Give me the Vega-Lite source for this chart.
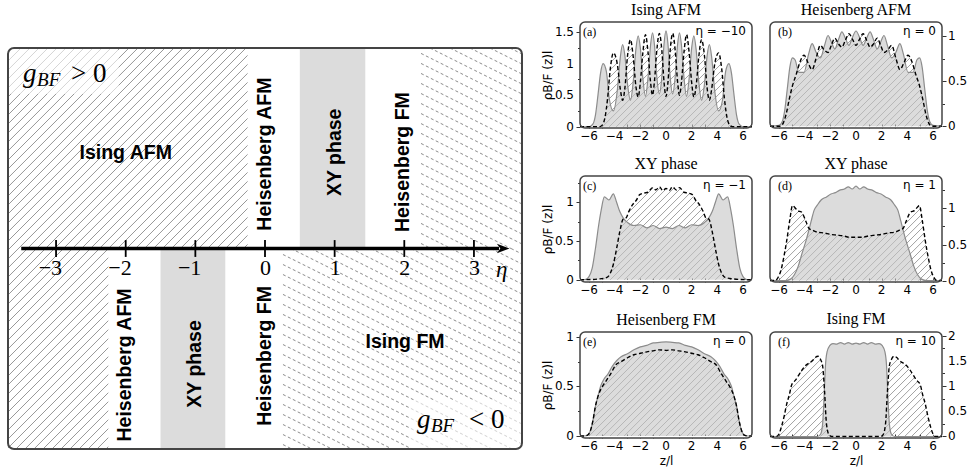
{
"$schema":"https://vega.github.io/schema/vega-lite/v6.json",
"padding":{"left":7,"top":2,"right":0,"bottom":0},
"background":"white",
"spacing":18,
"config":{"view":{"stroke":null},
"axis":{"labelFont":"DejaVu Sans","labelFontSize":12,"titleFont":"DejaVu Sans","titleFontSize":12,"titleFontWeight":"normal","labelColor":"#000","titleColor":"#000","tickColor":"#333","tickWidth":1,"domain":false,"grid":false,"zindex":1},
"title":{"font":"Liberation Serif","fontSize":16,"fontWeight":"normal","color":"#000","offset":3}},
"datasets":{
"one":[{}],
"xl":[{"t":-6,"l":"−6"},{"t":-4,"l":"−4"},{"t":-2,"l":"−2"},{"t":0,"l":"0"},{"t":2,"l":"2"},{"t":4,"l":"4"},{"t":6,"l":"6"}],
"yl":[{"t":0,"l":"0"},{"t":0.5,"l":"0.5"},{"t":1,"l":"1"},{"t":1.5,"l":"1.5"},{"t":2,"l":"2"}],
"hatch":[{"hx":-0.610,"hx2":0.006},{"hx":-0.569,"hx2":0.047},{"hx":-0.529,"hx2":0.087},{"hx":-0.488,"hx2":0.128},{"hx":-0.447,"hx2":0.169},{"hx":-0.407,"hx2":0.209},{"hx":-0.366,"hx2":0.250},{"hx":-0.325,"hx2":0.291},{"hx":-0.284,"hx2":0.332},{"hx":-0.244,"hx2":0.372},{"hx":-0.203,"hx2":0.413},{"hx":-0.162,"hx2":0.454},{"hx":-0.122,"hx2":0.494},{"hx":-0.081,"hx2":0.535},{"hx":-0.040,"hx2":0.576},{"hx":0.000,"hx2":0.616},{"hx":0.041,"hx2":0.657},{"hx":0.082,"hx2":0.698},{"hx":0.123,"hx2":0.739},{"hx":0.163,"hx2":0.779},{"hx":0.204,"hx2":0.820},{"hx":0.245,"hx2":0.861},{"hx":0.285,"hx2":0.901},{"hx":0.326,"hx2":0.942},{"hx":0.367,"hx2":0.983},{"hx":0.407,"hx2":1.023},{"hx":0.448,"hx2":1.064},{"hx":0.489,"hx2":1.105},{"hx":0.530,"hx2":1.146},{"hx":0.570,"hx2":1.186},{"hx":0.611,"hx2":1.227},{"hx":0.652,"hx2":1.268},{"hx":0.692,"hx2":1.308},{"hx":0.733,"hx2":1.349},{"hx":0.774,"hx2":1.390},{"hx":0.814,"hx2":1.430},{"hx":0.855,"hx2":1.471},{"hx":0.896,"hx2":1.512},{"hx":0.937,"hx2":1.553},{"hx":0.977,"hx2":1.593}],
"cur":[
{"p":"a","s":"B","z":-6.7,"v":0},{"p":"a","s":"B","z":-6.0,"v":0},{"p":"a","s":"B","z":-5.7,"v":0.04},{"p":"a","s":"B","z":-5.5,"v":0.18},{"p":"a","s":"B","z":-5.3,"v":0.5},{"p":"a","s":"B","z":-5.1,"v":0.85},{"p":"a","s":"B","z":-4.9,"v":1.0},{"p":"a","s":"B","z":-4.65,"v":0.88},{"p":"a","s":"B","z":-4.4,"v":0.42},{"p":"a","s":"B","z":-4.1,"v":0.25},{"p":"a","s":"B","z":-3.78,"v":0.6},{"p":"a","s":"B","z":-3.56,"v":1.1},{"p":"a","s":"B","z":-3.38,"v":1.3},{"p":"a","s":"B","z":-3.2,"v":1.12},{"p":"a","s":"B","z":-3.0,"v":0.68},{"p":"a","s":"B","z":-2.77,"v":0.42},{"p":"a","s":"B","z":-2.55,"v":0.72},{"p":"a","s":"B","z":-2.35,"v":1.22},{"p":"a","s":"B","z":-2.17,"v":1.44},{"p":"a","s":"B","z":-2.0,"v":1.25},{"p":"a","s":"B","z":-1.8,"v":0.76},{"p":"a","s":"B","z":-1.6,"v":0.48},{"p":"a","s":"B","z":-1.4,"v":0.78},{"p":"a","s":"B","z":-1.2,"v":1.3},{"p":"a","s":"B","z":-1.05,"v":1.49},{"p":"a","s":"B","z":-0.9,"v":1.3},{"p":"a","s":"B","z":-0.72,"v":0.8},{"p":"a","s":"B","z":-0.52,"v":0.52},{"p":"a","s":"B","z":-0.32,"v":0.8},{"p":"a","s":"B","z":-0.15,"v":1.32},{"p":"a","s":"B","z":0,"v":1.52},{"p":"a","s":"B","z":0.15,"v":1.32},{"p":"a","s":"B","z":0.32,"v":0.8},{"p":"a","s":"B","z":0.52,"v":0.52},{"p":"a","s":"B","z":0.72,"v":0.8},{"p":"a","s":"B","z":0.9,"v":1.3},{"p":"a","s":"B","z":1.05,"v":1.49},{"p":"a","s":"B","z":1.2,"v":1.3},{"p":"a","s":"B","z":1.4,"v":0.78},{"p":"a","s":"B","z":1.6,"v":0.48},{"p":"a","s":"B","z":1.8,"v":0.76},{"p":"a","s":"B","z":2.0,"v":1.25},{"p":"a","s":"B","z":2.17,"v":1.44},{"p":"a","s":"B","z":2.35,"v":1.22},{"p":"a","s":"B","z":2.55,"v":0.72},{"p":"a","s":"B","z":2.77,"v":0.42},{"p":"a","s":"B","z":3.0,"v":0.68},{"p":"a","s":"B","z":3.2,"v":1.12},{"p":"a","s":"B","z":3.38,"v":1.3},{"p":"a","s":"B","z":3.56,"v":1.1},{"p":"a","s":"B","z":3.78,"v":0.6},{"p":"a","s":"B","z":4.1,"v":0.25},{"p":"a","s":"B","z":4.4,"v":0.42},{"p":"a","s":"B","z":4.65,"v":0.88},{"p":"a","s":"B","z":4.9,"v":1.0},{"p":"a","s":"B","z":5.1,"v":0.85},{"p":"a","s":"B","z":5.3,"v":0.5},{"p":"a","s":"B","z":5.5,"v":0.18},{"p":"a","s":"B","z":5.7,"v":0.04},{"p":"a","s":"B","z":6.0,"v":0},{"p":"a","s":"B","z":6.7,"v":0},
{"p":"a","s":"F","z":-6.7,"v":0},{"p":"a","s":"F","z":-5.2,"v":0},{"p":"a","s":"F","z":-4.95,"v":0.03},{"p":"a","s":"F","z":-4.75,"v":0.15},{"p":"a","s":"F","z":-4.55,"v":0.45},{"p":"a","s":"F","z":-4.35,"v":0.9},{"p":"a","s":"F","z":-4.1,"v":1.17},{"p":"a","s":"F","z":-3.8,"v":1.0},{"p":"a","s":"F","z":-3.56,"v":0.6},{"p":"a","s":"F","z":-3.38,"v":0.42},{"p":"a","s":"F","z":-3.2,"v":0.62},{"p":"a","s":"F","z":-3.0,"v":1.12},{"p":"a","s":"F","z":-2.77,"v":1.38},{"p":"a","s":"F","z":-2.55,"v":1.1},{"p":"a","s":"F","z":-2.35,"v":0.65},{"p":"a","s":"F","z":-2.17,"v":0.47},{"p":"a","s":"F","z":-2.0,"v":0.7},{"p":"a","s":"F","z":-1.8,"v":1.18},{"p":"a","s":"F","z":-1.6,"v":1.46},{"p":"a","s":"F","z":-1.4,"v":1.18},{"p":"a","s":"F","z":-1.2,"v":0.7},{"p":"a","s":"F","z":-1.05,"v":0.5},{"p":"a","s":"F","z":-0.9,"v":0.72},{"p":"a","s":"F","z":-0.72,"v":1.2},{"p":"a","s":"F","z":-0.52,"v":1.48},{"p":"a","s":"F","z":-0.32,"v":1.2},{"p":"a","s":"F","z":-0.15,"v":0.7},{"p":"a","s":"F","z":0,"v":0.48},{"p":"a","s":"F","z":0.15,"v":0.7},{"p":"a","s":"F","z":0.32,"v":1.2},{"p":"a","s":"F","z":0.52,"v":1.48},{"p":"a","s":"F","z":0.72,"v":1.2},{"p":"a","s":"F","z":0.9,"v":0.72},{"p":"a","s":"F","z":1.05,"v":0.5},{"p":"a","s":"F","z":1.2,"v":0.7},{"p":"a","s":"F","z":1.4,"v":1.18},{"p":"a","s":"F","z":1.6,"v":1.46},{"p":"a","s":"F","z":1.8,"v":1.18},{"p":"a","s":"F","z":2.0,"v":0.7},{"p":"a","s":"F","z":2.17,"v":0.47},{"p":"a","s":"F","z":2.35,"v":0.65},{"p":"a","s":"F","z":2.55,"v":1.1},{"p":"a","s":"F","z":2.77,"v":1.38},{"p":"a","s":"F","z":3.0,"v":1.12},{"p":"a","s":"F","z":3.2,"v":0.62},{"p":"a","s":"F","z":3.38,"v":0.42},{"p":"a","s":"F","z":3.56,"v":0.6},{"p":"a","s":"F","z":3.8,"v":1.0},{"p":"a","s":"F","z":4.1,"v":1.17},{"p":"a","s":"F","z":4.35,"v":0.9},{"p":"a","s":"F","z":4.55,"v":0.45},{"p":"a","s":"F","z":4.75,"v":0.15},{"p":"a","s":"F","z":4.95,"v":0.03},{"p":"a","s":"F","z":5.2,"v":0},{"p":"a","s":"F","z":6.7,"v":0},
{"p":"b","s":"B","z":-6.7,"v":0},{"p":"b","s":"B","z":-6.0,"v":0.01},{"p":"b","s":"B","z":-5.75,"v":0.05},{"p":"b","s":"B","z":-5.55,"v":0.18},{"p":"b","s":"B","z":-5.35,"v":0.42},{"p":"b","s":"B","z":-5.15,"v":0.66},{"p":"b","s":"B","z":-4.95,"v":0.76},{"p":"b","s":"B","z":-4.75,"v":0.74},{"p":"b","s":"B","z":-4.45,"v":0.6},{"p":"b","s":"B","z":-4.05,"v":0.6},{"p":"b","s":"B","z":-3.7,"v":0.8},{"p":"b","s":"B","z":-3.42,"v":0.92},{"p":"b","s":"B","z":-3.1,"v":0.82},{"p":"b","s":"B","z":-2.78,"v":0.76},{"p":"b","s":"B","z":-2.45,"v":0.9},{"p":"b","s":"B","z":-2.18,"v":1.01},{"p":"b","s":"B","z":-1.9,"v":0.93},{"p":"b","s":"B","z":-1.65,"v":0.86},{"p":"b","s":"B","z":-1.35,"v":0.97},{"p":"b","s":"B","z":-1.1,"v":1.05},{"p":"b","s":"B","z":-0.8,"v":0.97},{"p":"b","s":"B","z":-0.55,"v":0.9},{"p":"b","s":"B","z":-0.3,"v":0.98},{"p":"b","s":"B","z":0,"v":1.06},{"p":"b","s":"B","z":0.3,"v":0.98},{"p":"b","s":"B","z":0.55,"v":0.9},{"p":"b","s":"B","z":0.8,"v":0.97},{"p":"b","s":"B","z":1.1,"v":1.05},{"p":"b","s":"B","z":1.35,"v":0.97},{"p":"b","s":"B","z":1.65,"v":0.86},{"p":"b","s":"B","z":1.9,"v":0.93},{"p":"b","s":"B","z":2.18,"v":1.01},{"p":"b","s":"B","z":2.45,"v":0.9},{"p":"b","s":"B","z":2.78,"v":0.76},{"p":"b","s":"B","z":3.1,"v":0.82},{"p":"b","s":"B","z":3.42,"v":0.92},{"p":"b","s":"B","z":3.7,"v":0.8},{"p":"b","s":"B","z":4.05,"v":0.6},{"p":"b","s":"B","z":4.45,"v":0.6},{"p":"b","s":"B","z":4.75,"v":0.74},{"p":"b","s":"B","z":4.95,"v":0.76},{"p":"b","s":"B","z":5.15,"v":0.66},{"p":"b","s":"B","z":5.35,"v":0.42},{"p":"b","s":"B","z":5.55,"v":0.18},{"p":"b","s":"B","z":5.75,"v":0.05},{"p":"b","s":"B","z":6.0,"v":0.01},{"p":"b","s":"B","z":6.7,"v":0},
{"p":"b","s":"F","z":-6.7,"v":0},{"p":"b","s":"F","z":-5.9,"v":0},{"p":"b","s":"F","z":-5.65,"v":0.04},{"p":"b","s":"F","z":-5.45,"v":0.13},{"p":"b","s":"F","z":-5.2,"v":0.3},{"p":"b","s":"F","z":-4.95,"v":0.45},{"p":"b","s":"F","z":-4.65,"v":0.58},{"p":"b","s":"F","z":-4.35,"v":0.72},{"p":"b","s":"F","z":-4.05,"v":0.79},{"p":"b","s":"F","z":-3.72,"v":0.7},{"p":"b","s":"F","z":-3.42,"v":0.63},{"p":"b","s":"F","z":-3.1,"v":0.76},{"p":"b","s":"F","z":-2.78,"v":0.9},{"p":"b","s":"F","z":-2.48,"v":0.85},{"p":"b","s":"F","z":-2.18,"v":0.82},{"p":"b","s":"F","z":-1.92,"v":0.9},{"p":"b","s":"F","z":-1.65,"v":0.98},{"p":"b","s":"F","z":-1.38,"v":0.92},{"p":"b","s":"F","z":-1.1,"v":0.88},{"p":"b","s":"F","z":-0.82,"v":0.96},{"p":"b","s":"F","z":-0.55,"v":1.03},{"p":"b","s":"F","z":-0.25,"v":0.96},{"p":"b","s":"F","z":0,"v":0.9},{"p":"b","s":"F","z":0.25,"v":0.96},{"p":"b","s":"F","z":0.55,"v":1.03},{"p":"b","s":"F","z":0.82,"v":0.96},{"p":"b","s":"F","z":1.1,"v":0.88},{"p":"b","s":"F","z":1.38,"v":0.92},{"p":"b","s":"F","z":1.65,"v":0.98},{"p":"b","s":"F","z":1.92,"v":0.9},{"p":"b","s":"F","z":2.18,"v":0.82},{"p":"b","s":"F","z":2.48,"v":0.85},{"p":"b","s":"F","z":2.78,"v":0.9},{"p":"b","s":"F","z":3.1,"v":0.76},{"p":"b","s":"F","z":3.42,"v":0.63},{"p":"b","s":"F","z":3.72,"v":0.7},{"p":"b","s":"F","z":4.05,"v":0.79},{"p":"b","s":"F","z":4.35,"v":0.72},{"p":"b","s":"F","z":4.65,"v":0.58},{"p":"b","s":"F","z":4.95,"v":0.45},{"p":"b","s":"F","z":5.2,"v":0.3},{"p":"b","s":"F","z":5.45,"v":0.13},{"p":"b","s":"F","z":5.65,"v":0.04},{"p":"b","s":"F","z":5.9,"v":0},{"p":"b","s":"F","z":6.7,"v":0},
{"p":"c","s":"B","z":-6.7,"v":0},{"p":"c","s":"B","z":-6.3,"v":0},{"p":"c","s":"B","z":-6.0,"v":0.04},{"p":"c","s":"B","z":-5.75,"v":0.15},{"p":"c","s":"B","z":-5.5,"v":0.4},{"p":"c","s":"B","z":-5.25,"v":0.7},{"p":"c","s":"B","z":-5.05,"v":0.9},{"p":"c","s":"B","z":-4.8,"v":1.07},{"p":"c","s":"B","z":-4.45,"v":1.03},{"p":"c","s":"B","z":-4.1,"v":1.11},{"p":"c","s":"B","z":-3.85,"v":1.0},{"p":"c","s":"B","z":-3.6,"v":0.88},{"p":"c","s":"B","z":-3.3,"v":0.79},{"p":"c","s":"B","z":-3.0,"v":0.74},{"p":"c","s":"B","z":-2.5,"v":0.7},{"p":"c","s":"B","z":-2.0,"v":0.71},{"p":"c","s":"B","z":-1.5,"v":0.67},{"p":"c","s":"B","z":-1.0,"v":0.7},{"p":"c","s":"B","z":-0.5,"v":0.66},{"p":"c","s":"B","z":0,"v":0.68},{"p":"c","s":"B","z":0.5,"v":0.66},{"p":"c","s":"B","z":1.0,"v":0.7},{"p":"c","s":"B","z":1.5,"v":0.67},{"p":"c","s":"B","z":2.0,"v":0.71},{"p":"c","s":"B","z":2.5,"v":0.7},{"p":"c","s":"B","z":3.0,"v":0.74},{"p":"c","s":"B","z":3.3,"v":0.79},{"p":"c","s":"B","z":3.6,"v":0.88},{"p":"c","s":"B","z":3.85,"v":1.0},{"p":"c","s":"B","z":4.1,"v":1.11},{"p":"c","s":"B","z":4.45,"v":1.03},{"p":"c","s":"B","z":4.8,"v":1.07},{"p":"c","s":"B","z":5.05,"v":0.9},{"p":"c","s":"B","z":5.25,"v":0.7},{"p":"c","s":"B","z":5.5,"v":0.4},{"p":"c","s":"B","z":5.75,"v":0.15},{"p":"c","s":"B","z":6.0,"v":0.04},{"p":"c","s":"B","z":6.3,"v":0},{"p":"c","s":"B","z":6.7,"v":0},
{"p":"c","s":"F","z":-6.7,"v":0},{"p":"c","s":"F","z":-6.3,"v":0},{"p":"c","s":"F","z":-5.2,"v":0.01},{"p":"c","s":"F","z":-4.6,"v":0.03},{"p":"c","s":"F","z":-4.35,"v":0.08},{"p":"c","s":"F","z":-4.1,"v":0.2},{"p":"c","s":"F","z":-3.85,"v":0.4},{"p":"c","s":"F","z":-3.6,"v":0.62},{"p":"c","s":"F","z":-3.35,"v":0.78},{"p":"c","s":"F","z":-3.1,"v":0.8},{"p":"c","s":"F","z":-2.9,"v":0.88},{"p":"c","s":"F","z":-2.6,"v":0.97},{"p":"c","s":"F","z":-2.3,"v":1.03},{"p":"c","s":"F","z":-2.05,"v":1.1},{"p":"c","s":"F","z":-1.7,"v":1.12},{"p":"c","s":"F","z":-1.4,"v":1.13},{"p":"c","s":"F","z":-1.05,"v":1.19},{"p":"c","s":"F","z":-0.8,"v":1.16},{"p":"c","s":"F","z":-0.5,"v":1.2},{"p":"c","s":"F","z":-0.25,"v":1.15},{"p":"c","s":"F","z":0,"v":1.18},{"p":"c","s":"F","z":0.25,"v":1.15},{"p":"c","s":"F","z":0.5,"v":1.2},{"p":"c","s":"F","z":0.8,"v":1.16},{"p":"c","s":"F","z":1.05,"v":1.19},{"p":"c","s":"F","z":1.4,"v":1.13},{"p":"c","s":"F","z":1.7,"v":1.12},{"p":"c","s":"F","z":2.05,"v":1.1},{"p":"c","s":"F","z":2.3,"v":1.03},{"p":"c","s":"F","z":2.6,"v":0.97},{"p":"c","s":"F","z":2.9,"v":0.88},{"p":"c","s":"F","z":3.1,"v":0.8},{"p":"c","s":"F","z":3.35,"v":0.78},{"p":"c","s":"F","z":3.6,"v":0.62},{"p":"c","s":"F","z":3.85,"v":0.4},{"p":"c","s":"F","z":4.1,"v":0.2},{"p":"c","s":"F","z":4.35,"v":0.08},{"p":"c","s":"F","z":4.6,"v":0.03},{"p":"c","s":"F","z":5.2,"v":0.01},{"p":"c","s":"F","z":6.3,"v":0},{"p":"c","s":"F","z":6.7,"v":0},
{"p":"d","s":"B","z":-6.7,"v":0},{"p":"d","s":"B","z":-5.5,"v":0},{"p":"d","s":"B","z":-5.1,"v":0.02},{"p":"d","s":"B","z":-4.8,"v":0.08},{"p":"d","s":"B","z":-4.5,"v":0.2},{"p":"d","s":"B","z":-4.2,"v":0.38},{"p":"d","s":"B","z":-3.9,"v":0.55},{"p":"d","s":"B","z":-3.7,"v":0.68},{"p":"d","s":"B","z":-3.5,"v":0.82},{"p":"d","s":"B","z":-3.25,"v":0.98},{"p":"d","s":"B","z":-3.0,"v":1.05},{"p":"d","s":"B","z":-2.7,"v":1.12},{"p":"d","s":"B","z":-2.3,"v":1.16},{"p":"d","s":"B","z":-1.95,"v":1.2},{"p":"d","s":"B","z":-1.6,"v":1.22},{"p":"d","s":"B","z":-1.3,"v":1.25},{"p":"d","s":"B","z":-0.9,"v":1.27},{"p":"d","s":"B","z":-0.6,"v":1.3},{"p":"d","s":"B","z":-0.3,"v":1.27},{"p":"d","s":"B","z":0,"v":1.31},{"p":"d","s":"B","z":0.3,"v":1.27},{"p":"d","s":"B","z":0.6,"v":1.3},{"p":"d","s":"B","z":0.9,"v":1.27},{"p":"d","s":"B","z":1.3,"v":1.25},{"p":"d","s":"B","z":1.6,"v":1.22},{"p":"d","s":"B","z":1.95,"v":1.2},{"p":"d","s":"B","z":2.3,"v":1.16},{"p":"d","s":"B","z":2.7,"v":1.12},{"p":"d","s":"B","z":3.0,"v":1.05},{"p":"d","s":"B","z":3.25,"v":0.98},{"p":"d","s":"B","z":3.5,"v":0.82},{"p":"d","s":"B","z":3.7,"v":0.68},{"p":"d","s":"B","z":3.9,"v":0.55},{"p":"d","s":"B","z":4.2,"v":0.38},{"p":"d","s":"B","z":4.5,"v":0.2},{"p":"d","s":"B","z":4.8,"v":0.08},{"p":"d","s":"B","z":5.1,"v":0.02},{"p":"d","s":"B","z":5.5,"v":0},{"p":"d","s":"B","z":6.7,"v":0},
{"p":"d","s":"F","z":-6.7,"v":0},{"p":"d","s":"F","z":-6.3,"v":0},{"p":"d","s":"F","z":-6.05,"v":0.05},{"p":"d","s":"F","z":-5.85,"v":0.14},{"p":"d","s":"F","z":-5.65,"v":0.3},{"p":"d","s":"F","z":-5.4,"v":0.55},{"p":"d","s":"F","z":-5.15,"v":0.85},{"p":"d","s":"F","z":-4.95,"v":1.04},{"p":"d","s":"F","z":-4.8,"v":1.02},{"p":"d","s":"F","z":-4.55,"v":0.97},{"p":"d","s":"F","z":-4.25,"v":0.95},{"p":"d","s":"F","z":-3.9,"v":0.82},{"p":"d","s":"F","z":-3.65,"v":0.72},{"p":"d","s":"F","z":-3.4,"v":0.7},{"p":"d","s":"F","z":-3.0,"v":0.67},{"p":"d","s":"F","z":-2.5,"v":0.66},{"p":"d","s":"F","z":-2.0,"v":0.64},{"p":"d","s":"F","z":-1.5,"v":0.63},{"p":"d","s":"F","z":-1.0,"v":0.62},{"p":"d","s":"F","z":-0.5,"v":0.6},{"p":"d","s":"F","z":0,"v":0.6},{"p":"d","s":"F","z":0.5,"v":0.6},{"p":"d","s":"F","z":1.0,"v":0.62},{"p":"d","s":"F","z":1.5,"v":0.63},{"p":"d","s":"F","z":2.0,"v":0.64},{"p":"d","s":"F","z":2.5,"v":0.66},{"p":"d","s":"F","z":3.0,"v":0.67},{"p":"d","s":"F","z":3.4,"v":0.7},{"p":"d","s":"F","z":3.65,"v":0.72},{"p":"d","s":"F","z":3.9,"v":0.82},{"p":"d","s":"F","z":4.25,"v":0.95},{"p":"d","s":"F","z":4.55,"v":0.97},{"p":"d","s":"F","z":4.8,"v":1.02},{"p":"d","s":"F","z":4.95,"v":1.04},{"p":"d","s":"F","z":5.15,"v":0.85},{"p":"d","s":"F","z":5.4,"v":0.55},{"p":"d","s":"F","z":5.65,"v":0.3},{"p":"d","s":"F","z":5.85,"v":0.14},{"p":"d","s":"F","z":6.05,"v":0.05},{"p":"d","s":"F","z":6.3,"v":0},{"p":"d","s":"F","z":6.7,"v":0},
{"p":"e","s":"B","z":-6.7,"v":0},{"p":"e","s":"B","z":-6.4,"v":0},{"p":"e","s":"B","z":-6.1,"v":0.01},{"p":"e","s":"B","z":-5.9,"v":0.05},{"p":"e","s":"B","z":-5.7,"v":0.15},{"p":"e","s":"B","z":-5.5,"v":0.3},{"p":"e","s":"B","z":-5.3,"v":0.4},{"p":"e","s":"B","z":-5.1,"v":0.5},{"p":"e","s":"B","z":-4.85,"v":0.57},{"p":"e","s":"B","z":-4.5,"v":0.63},{"p":"e","s":"B","z":-4.2,"v":0.7},{"p":"e","s":"B","z":-3.85,"v":0.76},{"p":"e","s":"B","z":-3.5,"v":0.8},{"p":"e","s":"B","z":-3.0,"v":0.83},{"p":"e","s":"B","z":-2.5,"v":0.87},{"p":"e","s":"B","z":-2.0,"v":0.9},{"p":"e","s":"B","z":-1.5,"v":0.915},{"p":"e","s":"B","z":-1.0,"v":0.94},{"p":"e","s":"B","z":-0.5,"v":0.945},{"p":"e","s":"B","z":0,"v":0.95},{"p":"e","s":"B","z":0.5,"v":0.945},{"p":"e","s":"B","z":1.0,"v":0.94},{"p":"e","s":"B","z":1.5,"v":0.915},{"p":"e","s":"B","z":2.0,"v":0.9},{"p":"e","s":"B","z":2.5,"v":0.87},{"p":"e","s":"B","z":3.0,"v":0.83},{"p":"e","s":"B","z":3.5,"v":0.8},{"p":"e","s":"B","z":3.85,"v":0.76},{"p":"e","s":"B","z":4.2,"v":0.7},{"p":"e","s":"B","z":4.5,"v":0.63},{"p":"e","s":"B","z":4.85,"v":0.57},{"p":"e","s":"B","z":5.1,"v":0.5},{"p":"e","s":"B","z":5.3,"v":0.4},{"p":"e","s":"B","z":5.5,"v":0.3},{"p":"e","s":"B","z":5.7,"v":0.15},{"p":"e","s":"B","z":5.9,"v":0.05},{"p":"e","s":"B","z":6.1,"v":0.01},{"p":"e","s":"B","z":6.4,"v":0},{"p":"e","s":"B","z":6.7,"v":0},
{"p":"e","s":"F","z":-6.7,"v":0},{"p":"e","s":"F","z":-6.4,"v":0},{"p":"e","s":"F","z":-6.1,"v":0.01},{"p":"e","s":"F","z":-5.9,"v":0.05},{"p":"e","s":"F","z":-5.7,"v":0.15},{"p":"e","s":"F","z":-5.5,"v":0.3},{"p":"e","s":"F","z":-5.3,"v":0.4},{"p":"e","s":"F","z":-5.0,"v":0.49},{"p":"e","s":"F","z":-4.7,"v":0.55},{"p":"e","s":"F","z":-4.3,"v":0.63},{"p":"e","s":"F","z":-3.9,"v":0.72},{"p":"e","s":"F","z":-3.5,"v":0.75},{"p":"e","s":"F","z":-3.0,"v":0.79},{"p":"e","s":"F","z":-2.5,"v":0.82},{"p":"e","s":"F","z":-2.0,"v":0.835},{"p":"e","s":"F","z":-1.5,"v":0.85},{"p":"e","s":"F","z":-1.0,"v":0.86},{"p":"e","s":"F","z":-0.5,"v":0.87},{"p":"e","s":"F","z":0,"v":0.865},{"p":"e","s":"F","z":0.5,"v":0.87},{"p":"e","s":"F","z":1.0,"v":0.86},{"p":"e","s":"F","z":1.5,"v":0.85},{"p":"e","s":"F","z":2.0,"v":0.835},{"p":"e","s":"F","z":2.5,"v":0.82},{"p":"e","s":"F","z":3.0,"v":0.79},{"p":"e","s":"F","z":3.5,"v":0.75},{"p":"e","s":"F","z":3.9,"v":0.72},{"p":"e","s":"F","z":4.3,"v":0.63},{"p":"e","s":"F","z":4.7,"v":0.55},{"p":"e","s":"F","z":5.0,"v":0.49},{"p":"e","s":"F","z":5.3,"v":0.4},{"p":"e","s":"F","z":5.5,"v":0.3},{"p":"e","s":"F","z":5.7,"v":0.15},{"p":"e","s":"F","z":5.9,"v":0.05},{"p":"e","s":"F","z":6.1,"v":0.01},{"p":"e","s":"F","z":6.4,"v":0},{"p":"e","s":"F","z":6.7,"v":0},
{"p":"f","s":"B","z":-6.7,"v":0},{"p":"f","s":"B","z":-3.0,"v":0},{"p":"f","s":"B","z":-2.75,"v":0.05},{"p":"f","s":"B","z":-2.6,"v":0.25},{"p":"f","s":"B","z":-2.52,"v":0.6},{"p":"f","s":"B","z":-2.45,"v":1.0},{"p":"f","s":"B","z":-2.38,"v":1.4},{"p":"f","s":"B","z":-2.25,"v":1.68},{"p":"f","s":"B","z":-2.05,"v":1.8},{"p":"f","s":"B","z":-1.8,"v":1.84},{"p":"f","s":"B","z":-1.5,"v":1.83},{"p":"f","s":"B","z":-1.2,"v":1.86},{"p":"f","s":"B","z":-0.9,"v":1.83},{"p":"f","s":"B","z":-0.6,"v":1.86},{"p":"f","s":"B","z":-0.3,"v":1.83},{"p":"f","s":"B","z":0,"v":1.85},{"p":"f","s":"B","z":0.3,"v":1.83},{"p":"f","s":"B","z":0.6,"v":1.86},{"p":"f","s":"B","z":0.9,"v":1.83},{"p":"f","s":"B","z":1.2,"v":1.86},{"p":"f","s":"B","z":1.5,"v":1.83},{"p":"f","s":"B","z":1.8,"v":1.84},{"p":"f","s":"B","z":2.05,"v":1.8},{"p":"f","s":"B","z":2.25,"v":1.68},{"p":"f","s":"B","z":2.38,"v":1.4},{"p":"f","s":"B","z":2.45,"v":1.0},{"p":"f","s":"B","z":2.52,"v":0.6},{"p":"f","s":"B","z":2.6,"v":0.25},{"p":"f","s":"B","z":2.75,"v":0.05},{"p":"f","s":"B","z":3.0,"v":0},{"p":"f","s":"B","z":6.7,"v":0},
{"p":"f","s":"F","z":-6.7,"v":0},{"p":"f","s":"F","z":-6.2,"v":0},{"p":"f","s":"F","z":-6.0,"v":0.05},{"p":"f","s":"F","z":-5.8,"v":0.2},{"p":"f","s":"F","z":-5.6,"v":0.4},{"p":"f","s":"F","z":-5.4,"v":0.64},{"p":"f","s":"F","z":-5.2,"v":0.82},{"p":"f","s":"F","z":-5.0,"v":1.03},{"p":"f","s":"F","z":-4.7,"v":1.12},{"p":"f","s":"F","z":-4.5,"v":1.2},{"p":"f","s":"F","z":-4.2,"v":1.32},{"p":"f","s":"F","z":-3.95,"v":1.4},{"p":"f","s":"F","z":-3.7,"v":1.45},{"p":"f","s":"F","z":-3.4,"v":1.5},{"p":"f","s":"F","z":-3.2,"v":1.56},{"p":"f","s":"F","z":-2.95,"v":1.59},{"p":"f","s":"F","z":-2.75,"v":1.52},{"p":"f","s":"F","z":-2.6,"v":1.4},{"p":"f","s":"F","z":-2.45,"v":0.9},{"p":"f","s":"F","z":-2.3,"v":0.25},{"p":"f","s":"F","z":-2.1,"v":0.03},{"p":"f","s":"F","z":-1.9,"v":0},{"p":"f","s":"F","z":0,"v":0},{"p":"f","s":"F","z":1.9,"v":0},{"p":"f","s":"F","z":2.1,"v":0.03},{"p":"f","s":"F","z":2.3,"v":0.25},{"p":"f","s":"F","z":2.45,"v":0.9},{"p":"f","s":"F","z":2.6,"v":1.4},{"p":"f","s":"F","z":2.75,"v":1.52},{"p":"f","s":"F","z":2.95,"v":1.59},{"p":"f","s":"F","z":3.2,"v":1.56},{"p":"f","s":"F","z":3.4,"v":1.5},{"p":"f","s":"F","z":3.7,"v":1.45},{"p":"f","s":"F","z":3.95,"v":1.4},{"p":"f","s":"F","z":4.2,"v":1.32},{"p":"f","s":"F","z":4.5,"v":1.2},{"p":"f","s":"F","z":4.7,"v":1.12},{"p":"f","s":"F","z":5.0,"v":1.03},{"p":"f","s":"F","z":5.2,"v":0.82},{"p":"f","s":"F","z":5.4,"v":0.64},{"p":"f","s":"F","z":5.6,"v":0.4},{"p":"f","s":"F","z":5.8,"v":0.2},{"p":"f","s":"F","z":6.0,"v":0.05},{"p":"f","s":"F","z":6.2,"v":0},{"p":"f","s":"F","z":6.7,"v":0}
]},
"hconcat":[
{"width":514,"height":447,
"layer":[
{"data":{"values":[{"x":-9.390,"x2":-3.633},{"x":-9.261,"x2":-3.504},{"x":-9.132,"x2":-3.375},{"x":-9.002,"x2":-3.245},{"x":-8.873,"x2":-3.116},{"x":-8.744,"x2":-2.987},{"x":-8.615,"x2":-2.858},{"x":-8.485,"x2":-2.728},{"x":-8.356,"x2":-2.599},{"x":-8.227,"x2":-2.470},{"x":-8.098,"x2":-2.341},{"x":-7.969,"x2":-2.212},{"x":-7.839,"x2":-2.082},{"x":-7.710,"x2":-1.953},{"x":-7.581,"x2":-1.824},{"x":-7.452,"x2":-1.695},{"x":-7.322,"x2":-1.565},{"x":-7.193,"x2":-1.436},{"x":-7.064,"x2":-1.307},{"x":-6.935,"x2":-1.178},{"x":-6.806,"x2":-1.049},{"x":-6.676,"x2":-0.919},{"x":-6.547,"x2":-0.790},{"x":-6.418,"x2":-0.661},{"x":-6.289,"x2":-0.532},{"x":-6.159,"x2":-0.402},{"x":-6.030,"x2":-0.273},{"x":-5.901,"x2":-0.144},{"x":-5.772,"x2":-0.015},{"x":-5.643,"x2":0.114},{"x":-5.513,"x2":0.244},{"x":-5.384,"x2":0.373},{"x":-5.255,"x2":0.502},{"x":-5.126,"x2":0.631},{"x":-4.996,"x2":0.761},{"x":-4.867,"x2":0.890},{"x":-4.738,"x2":1.019},{"x":-4.609,"x2":1.148},{"x":-4.480,"x2":1.277},{"x":-4.350,"x2":1.407},{"x":-4.221,"x2":1.536},{"x":-4.092,"x2":1.665},{"x":-3.963,"x2":1.794},{"x":-3.833,"x2":1.924},{"x":-3.704,"x2":2.053},{"x":-3.575,"x2":2.182},{"x":-3.446,"x2":2.311},{"x":-3.317,"x2":2.440},{"x":-3.187,"x2":2.570},{"x":-3.058,"x2":2.699},{"x":-2.929,"x2":2.828},{"x":-2.800,"x2":2.957},{"x":-2.670,"x2":3.087},{"x":-2.541,"x2":3.216},{"x":-2.412,"x2":3.345},{"x":-2.283,"x2":3.474}]},
 "mark":{"type":"rule","clip":true,"stroke":"#8c8c8c","strokeWidth":0.9},
 "encoding":{"x":{"field":"x","type":"quantitative","scale":{"domain":[-3.69,3.69],"nice":false,"zero":false},"axis":null},"x2":{"field":"x2"},"y":{"datum":-1,"type":"quantitative","scale":{"domain":[-1.0998,1.1297],"nice":false,"zero":false},"axis":null},"y2":{"datum":1}}},
{"data":{"values":[{"a":-0.25,"b":3.69,"c":0,"d":1},{"a":-2.25,"b":3.69,"c":-1,"d":0}]},
 "mark":{"type":"rect","fill":"white"},
 "encoding":{"x":{"field":"a","type":"quantitative","axis":null},"x2":{"field":"b"},"y":{"field":"c","type":"quantitative","axis":null},"y2":{"field":"d"}}},
{"data":{"values":[{"a":0.5,"b":1.44,"c":0,"d":1},{"a":-1.5,"b":-0.57,"c":-1,"d":0}]},
 "mark":{"type":"rect","fill":"#dcdcdc"},
 "encoding":{"x":{"field":"a","type":"quantitative","axis":null},"x2":{"field":"b"},"y":{"field":"c","type":"quantitative","axis":null},"y2":{"field":"d"}}},
{"data":{"values":[{"x":0.258,"y":-0.978,"x2":0.387,"y2":-1},{"x":0.258,"y":-0.928,"x2":0.674,"y2":-1},{"x":0.258,"y":-0.878,"x2":0.961,"y2":-1},{"x":0.258,"y":-0.828,"x2":1.248,"y2":-1},{"x":0.258,"y":-0.778,"x2":1.536,"y2":-1},{"x":0.258,"y":-0.728,"x2":1.823,"y2":-1},{"x":0.258,"y":-0.678,"x2":2.110,"y2":-1},{"x":0.258,"y":-0.628,"x2":2.397,"y2":-1},{"x":0.258,"y":-0.579,"x2":2.684,"y2":-1},{"x":0.258,"y":-0.529,"x2":2.971,"y2":-1},{"x":0.258,"y":-0.479,"x2":3.258,"y2":-1},{"x":0.258,"y":-0.429,"x2":3.546,"y2":-1},{"x":0.258,"y":-0.379,"x2":3.833,"y2":-1},{"x":0.258,"y":-0.329,"x2":4.120,"y2":-1},{"x":0.258,"y":-0.279,"x2":4.407,"y2":-1},{"x":0.258,"y":-0.229,"x2":4.694,"y2":-1},{"x":0.258,"y":-0.180,"x2":4.981,"y2":-1},{"x":0.258,"y":-0.130,"x2":5.268,"y2":-1},{"x":0.258,"y":-0.080,"x2":5.556,"y2":-1},{"x":0.258,"y":-0.030,"x2":5.843,"y2":-1},{"x":0.373,"y":0,"x2":6.130,"y2":-1},{"x":0.660,"y":0,"x2":6.417,"y2":-1},{"x":0.947,"y":0,"x2":6.704,"y2":-1},{"x":1.234,"y":0,"x2":6.991,"y2":-1},{"x":1.522,"y":0,"x2":7.279,"y2":-1},{"x":1.809,"y":0,"x2":7.566,"y2":-1},{"x":2.096,"y":0,"x2":7.853,"y2":-1},{"x":2.383,"y":0,"x2":8.140,"y2":-1},{"x":2.670,"y":0,"x2":8.427,"y2":-1},{"x":2.957,"y":0,"x2":8.714,"y2":-1},{"x":3.244,"y":0,"x2":9.001,"y2":-1},{"x":3.532,"y":0,"x2":9.289,"y2":-1},
{"x":2.24,"y":0.025,"x2":2.383,"y2":0},{"x":2.24,"y":0.075,"x2":2.670,"y2":0},{"x":2.24,"y":0.125,"x2":2.957,"y2":0},{"x":2.24,"y":0.175,"x2":3.244,"y2":0},{"x":2.24,"y":0.224,"x2":3.532,"y2":0},{"x":2.24,"y":0.274,"x2":3.819,"y2":0},{"x":2.24,"y":0.324,"x2":4.106,"y2":0},{"x":2.24,"y":0.374,"x2":4.393,"y2":0},{"x":2.24,"y":0.424,"x2":4.680,"y2":0},{"x":2.24,"y":0.474,"x2":4.967,"y2":0},{"x":2.24,"y":0.524,"x2":5.254,"y2":0},{"x":2.24,"y":0.574,"x2":5.542,"y2":0},{"x":2.24,"y":0.623,"x2":5.829,"y2":0},{"x":2.24,"y":0.673,"x2":6.116,"y2":0},{"x":2.24,"y":0.723,"x2":6.403,"y2":0},{"x":2.24,"y":0.773,"x2":6.690,"y2":0},{"x":2.24,"y":0.823,"x2":6.977,"y2":0},{"x":2.24,"y":0.873,"x2":7.264,"y2":0},{"x":2.24,"y":0.923,"x2":7.552,"y2":0},{"x":2.24,"y":0.973,"x2":7.839,"y2":0},{"x":2.369,"y":1,"x2":8.126,"y2":0},{"x":2.656,"y":1,"x2":8.413,"y2":0},{"x":2.943,"y":1,"x2":8.700,"y2":0},{"x":3.230,"y":1,"x2":8.987,"y2":0},{"x":3.517,"y":1,"x2":9.274,"y2":0}]},
 "mark":{"type":"rule","clip":true,"stroke":"#8c8c8c","strokeWidth":1,"strokeDash":[3,2.5]},
 "encoding":{"x":{"field":"x","type":"quantitative","axis":null},"x2":{"field":"x2"},"y":{"field":"y","type":"quantitative","axis":null},"y2":{"field":"y2"}}},
{"data":{"values":[{"a":-3.69,"b":-2.1,"c":0.77,"d":1},{"a":2.07,"b":3.69,"c":-1,"d":-0.756}]},
 "mark":{"type":"rect","fill":"white","opacity":0.6,"cornerRadius":4},
 "encoding":{"x":{"field":"a","type":"quantitative","axis":null},"x2":{"field":"b"},"y":{"field":"c","type":"quantitative","axis":null},"y2":{"field":"d"}}},
{"data":{"values":[{"a":-3.5,"b":3.36}]},
 "mark":{"type":"rule","stroke":"black","strokeWidth":3.5},
 "encoding":{"x":{"field":"a","type":"quantitative","axis":null},"x2":{"field":"b"},"y":{"datum":0,"type":"quantitative","axis":null}}},
{"data":{"values":[{"a":3.42}]},
 "mark":{"type":"point","shape":"M 1 0 L -1 -0.75 L -0.45 0 L -1 0.75 Z","filled":true,"fill":"black","stroke":null,"size":160,"opacity":1},
 "encoding":{"x":{"field":"a","type":"quantitative","axis":null},"y":{"datum":0,"type":"quantitative","axis":null}}},
{"data":{"values":[{"t":-3,"l":"−3"},{"t":-2,"l":"−2"},{"t":-1,"l":"−1"},{"t":0,"l":"0"},{"t":1,"l":"1"},{"t":2,"l":"2"},{"t":3,"l":"3"}]},
 "layer":[
 {"mark":{"type":"rule","stroke":"black","strokeWidth":1.8},
  "encoding":{"x":{"field":"t","type":"quantitative","axis":null},"y":{"datum":-0.042,"type":"quantitative","axis":null},"y2":{"datum":0.042}}},
 {"mark":{"type":"text","font":"Liberation Serif","fontSize":22,"align":"right","baseline":"middle","dx":6},
  "encoding":{"x":{"field":"t","type":"quantitative","axis":null},"y":{"datum":-0.097,"type":"quantitative","axis":null},"text":{"field":"l"}}}
 ]},
{"data":{"name":"one"},
 "mark":{"type":"text","text":"η","font":"Liberation Serif","fontStyle":"italic","fontSize":23,"align":"center","baseline":"middle"},
 "encoding":{"x":{"datum":3.40,"type":"quantitative","axis":null},"y":{"datum":-0.107,"type":"quantitative","axis":null}}},
{"data":{"values":[{"t":"Ising AFM","x":-2.0,"y":0.476},{"t":"Ising FM","x":2.01,"y":-0.466}]},
 "mark":{"type":"text","font":"Liberation Sans","fontWeight":"bold","fontSize":19.5,"align":"center","baseline":"middle"},
 "encoding":{"x":{"field":"x","type":"quantitative","axis":null},"y":{"field":"y","type":"quantitative","axis":null},"text":{"field":"t"}}},
{"data":{"values":[{"t":"Heisenberg AFM","x":0.0,"y":0.471},{"t":"XY phase","x":1.0,"y":0.48},{"t":"Heisenberg FM","x":1.98,"y":0.431},{"t":"Heisenberg AFM","x":-2.01,"y":-0.581},{"t":"XY phase","x":-1.005,"y":-0.576},{"t":"Heisenberg FM","x":0.0,"y":-0.536}]},
 "mark":{"type":"text","font":"Liberation Sans","fontWeight":"bold","fontSize":19.5,"align":"center","baseline":"middle","angle":270},
 "encoding":{"x":{"field":"x","type":"quantitative","axis":null},"y":{"field":"y","type":"quantitative","axis":null},"text":{"field":"t"}}},
{"data":{"values":[{"x":-3.475,"y":0.830},{"x":2.182,"y":-0.895}]},
 "mark":{"type":"text","text":"g","font":"Liberation Serif","fontStyle":"italic","fontSize":27,"align":"left","baseline":"alphabetic"},
 "encoding":{"x":{"field":"x","type":"quantitative","axis":null},"y":{"field":"y","type":"quantitative","axis":null}}},
{"data":{"values":[{"x":-3.273,"y":0.810},{"x":2.383,"y":-0.915}]},
 "mark":{"type":"text","text":"BF","font":"Liberation Serif","fontStyle":"italic","fontSize":19,"align":"left","baseline":"alphabetic"},
 "encoding":{"x":{"field":"x","type":"quantitative","axis":null},"y":{"field":"y","type":"quantitative","axis":null}}},
{"data":{"values":[{"t":"> 0","x":-2.785,"y":0.830},{"t":"< 0","x":2.93,"y":-0.895}]},
 "mark":{"type":"text","font":"Liberation Serif","fontSize":27,"align":"left","baseline":"alphabetic"},
 "encoding":{"x":{"field":"x","type":"quantitative","axis":null},"y":{"field":"y","type":"quantitative","axis":null},"text":{"field":"t"}}},
{"data":{"name":"one"},
 "mark":{"type":"rect","filled":false,"stroke":"#444","strokeWidth":2,"cornerRadius":6},
 "encoding":{"x":{"datum":-3.69,"type":"quantitative","axis":null},"x2":{"datum":3.69},"y":{"datum":-1,"type":"quantitative","axis":null},"y2":{"datum":1}}}
]},
{"vconcat":[
{"hconcat":[
{"width":172,"height":106,"title":"Ising AFM","resolve":{"scale":{"x":"independent","y":"independent"}},
 "layer":[
 {"data":{"name":"hatch"},"mark":{"type":"rule","clip":true,"stroke":"#7a7a7a","strokeWidth":0.7},
  "encoding":{"x":{"field":"hx","type":"quantitative","scale":{"domain":[0,1],"nice":false,"zero":false},"axis":{"orient":"bottom","values":[0.1269,0.2761,0.4254,0.5746,0.7239,0.8731],"labels":false,"tickSize":-4,"title":null,"offset":0}},"x2":{"field":"hx2"},"y":{"datum":0,"type":"quantitative","scale":{"domain":[0,1],"nice":false,"zero":false},"axis":{"orient":"left","values":[0.1607,0.4583,0.7560],"labels":false,"tickSize":2.5,"title":null,"offset":0}},"y2":{"datum":1}}},
 {"layer":[
  {"data":{"name":"cur"},"transform":[{"filter":"datum.p=='a' && datum.s=='F'"}],"mark":{"type":"area","interpolate":"monotone","fill":"white","clip":true},
   "encoding":{"x":{"field":"z","type":"quantitative","scale":{"domain":[-6.7,6.7],"nice":false,"zero":false},"axis":{"orient":"bottom","values":[-6,-4,-2,0,2,4,6],"labels":false,"tickSize":-4,"title":null,"offset":0}},
   "y":{"field":"v","type":"quantitative","scale":{"domain":[-0.02,1.66],"nice":false,"zero":false},"axis":{"orient":"left","values":[0,0.5,1,1.5],"labels":false,"tickSize":4,"title":"ρB/F (z)l","titlePadding":21,"offset":0}},
   "y2":{"datum":1.66}}},
  {"data":{"name":"one"},"mark":{"type":"rect","fill":"white"},"encoding":{"x":{"datum":-6.7,"type":"quantitative"},"x2":{"datum":6.7},"y":{"datum":-0.02,"type":"quantitative"},"y2":{"datum":0}}},
  {"data":{"name":"cur"},"transform":[{"filter":"datum.p=='a' && datum.s=='B'"}],"mark":{"type":"area","interpolate":"monotone","fill":"#c4c4c4","opacity":0.6,"clip":true},"encoding":{"x":{"field":"z","type":"quantitative"},"y":{"field":"v","type":"quantitative"},"y2":{"datum":0}}},
  {"data":{"name":"cur"},"transform":[{"filter":"datum.p=='a' && datum.s=='B'"}],"mark":{"type":"line","interpolate":"monotone","stroke":"#8c8c8c","strokeWidth":1.2,"clip":true},"encoding":{"x":{"field":"z","type":"quantitative"},"y":{"field":"v","type":"quantitative"}}},
  {"data":{"name":"cur"},"transform":[{"filter":"datum.p=='a' && datum.s=='F'"}],"mark":{"type":"line","interpolate":"monotone","stroke":"black","strokeWidth":1.4,"strokeDash":[4,2.5],"clip":true},"encoding":{"x":{"field":"z","type":"quantitative"},"y":{"field":"v","type":"quantitative"}}},
  {"data":{"name":"one"},"mark":{"type":"rect","filled":false,"stroke":"#444","strokeWidth":1.5,"cornerRadius":5},"encoding":{"x":{"datum":-6.7,"type":"quantitative"},"x2":{"datum":6.7},"y":{"datum":-0.02,"type":"quantitative"},"y2":{"datum":1.66}}},
  {"data":{"name":"one"},"mark":{"type":"text","text":"(a)","font":"Liberation Serif","fontSize":12,"align":"left","baseline":"top","dx":3,"dy":5},"encoding":{"x":{"datum":-6.7,"type":"quantitative"},"y":{"datum":1.66,"type":"quantitative"}}},
  {"data":{"name":"one"},"mark":{"type":"text","text":"η = −10","font":"DejaVu Sans","fontSize":12,"align":"right","baseline":"top","dx":-6,"dy":4},"encoding":{"x":{"datum":6.7,"type":"quantitative"},"y":{"datum":1.66,"type":"quantitative"}}},
  {"data":{"name":"xl"},"mark":{"type":"text","font":"DejaVu Sans","fontSize":12,"align":"center","baseline":"top","dy":3},"encoding":{"x":{"field":"t","type":"quantitative"},"y":{"datum":-0.02,"type":"quantitative"},"text":{"field":"l"}}},
  {"data":{"name":"yl"},"transform":[{"filter":"datum.t <= 1.5"}],"mark":{"type":"text","font":"DejaVu Sans","fontSize":12,"align":"right","baseline":"middle","dx":-6},"encoding":{"x":{"datum":-6.7,"type":"quantitative"},"y":{"field":"t","type":"quantitative"},"text":{"field":"l"}}}
 ]}
 ]},
{"width":172,"height":106,"title":"Heisenberg AFM","resolve":{"scale":{"x":"independent","y":"independent"}},
 "layer":[
 {"data":{"name":"hatch"},"mark":{"type":"rule","clip":true,"stroke":"#7a7a7a","strokeWidth":0.7},
  "encoding":{"x":{"field":"hx","type":"quantitative","scale":{"domain":[0,1],"nice":false,"zero":false},"axis":{"orient":"bottom","values":[0.1269,0.2761,0.4254,0.5746,0.7239,0.8731],"labels":false,"tickSize":-4,"title":null,"offset":0}},"x2":{"field":"hx2"},"y":{"datum":0,"type":"quantitative","scale":{"domain":[0,1],"nice":false,"zero":false},"axis":{"orient":"right","values":[0.2288,0.6525],"labels":false,"tickSize":2.5,"title":null,"offset":0}},"y2":{"datum":1}}},
 {"layer":[
  {"data":{"name":"cur"},"transform":[{"filter":"datum.p=='b' && datum.s=='F'"}],"mark":{"type":"area","interpolate":"monotone","fill":"white","clip":true},
   "encoding":{"x":{"field":"z","type":"quantitative","scale":{"domain":[-6.7,6.7],"nice":false,"zero":false},"axis":{"orient":"bottom","values":[-6,-4,-2,0,2,4,6],"labels":false,"tickSize":-4,"title":null,"offset":0}},
   "y":{"field":"v","type":"quantitative","scale":{"domain":[-0.02,1.16],"nice":false,"zero":false},"axis":{"orient":"right","values":[0,0.5,1],"labels":false,"tickSize":4,"title":null,"offset":0}},
   "y2":{"datum":1.16}}},
  {"data":{"name":"one"},"mark":{"type":"rect","fill":"white"},"encoding":{"x":{"datum":-6.7,"type":"quantitative"},"x2":{"datum":6.7},"y":{"datum":-0.02,"type":"quantitative"},"y2":{"datum":0}}},
  {"data":{"name":"cur"},"transform":[{"filter":"datum.p=='b' && datum.s=='B'"}],"mark":{"type":"area","interpolate":"monotone","fill":"#c4c4c4","opacity":0.6,"clip":true},"encoding":{"x":{"field":"z","type":"quantitative"},"y":{"field":"v","type":"quantitative"},"y2":{"datum":0}}},
  {"data":{"name":"cur"},"transform":[{"filter":"datum.p=='b' && datum.s=='B'"}],"mark":{"type":"line","interpolate":"monotone","stroke":"#8c8c8c","strokeWidth":1.2,"clip":true},"encoding":{"x":{"field":"z","type":"quantitative"},"y":{"field":"v","type":"quantitative"}}},
  {"data":{"name":"cur"},"transform":[{"filter":"datum.p=='b' && datum.s=='F'"}],"mark":{"type":"line","interpolate":"monotone","stroke":"black","strokeWidth":1.4,"strokeDash":[4,2.5],"clip":true},"encoding":{"x":{"field":"z","type":"quantitative"},"y":{"field":"v","type":"quantitative"}}},
  {"data":{"name":"one"},"mark":{"type":"rect","filled":false,"stroke":"#444","strokeWidth":1.5,"cornerRadius":5},"encoding":{"x":{"datum":-6.7,"type":"quantitative"},"x2":{"datum":6.7},"y":{"datum":-0.02,"type":"quantitative"},"y2":{"datum":1.16}}},
  {"data":{"name":"one"},"mark":{"type":"text","text":"(b)","font":"Liberation Serif","fontSize":12,"align":"left","baseline":"top","dx":8,"dy":5},"encoding":{"x":{"datum":-6.7,"type":"quantitative"},"y":{"datum":1.16,"type":"quantitative"}}},
  {"data":{"name":"one"},"mark":{"type":"text","text":"η = 0","font":"DejaVu Sans","fontSize":12,"align":"right","baseline":"top","dx":-6,"dy":4},"encoding":{"x":{"datum":6.7,"type":"quantitative"},"y":{"datum":1.16,"type":"quantitative"}}},
  {"data":{"name":"xl"},"mark":{"type":"text","font":"DejaVu Sans","fontSize":12,"align":"center","baseline":"top","dy":3},"encoding":{"x":{"field":"t","type":"quantitative"},"y":{"datum":-0.02,"type":"quantitative"},"text":{"field":"l"}}},
  {"data":{"name":"yl"},"transform":[{"filter":"datum.t <= 1"}],"mark":{"type":"text","font":"DejaVu Sans","fontSize":12,"align":"left","baseline":"middle","dx":6},"encoding":{"x":{"datum":6.7,"type":"quantitative"},"y":{"field":"t","type":"quantitative"},"text":{"field":"l"}}}
 ]}
 ]}
],"spacing":16},
{"hconcat":[
{"width":172,"height":106,"title":"XY phase","resolve":{"scale":{"x":"independent","y":"independent"}},
 "layer":[
 {"data":{"name":"hatch"},"mark":{"type":"rule","clip":true,"stroke":"#7a7a7a","strokeWidth":0.7},
  "encoding":{"x":{"field":"hx","type":"quantitative","scale":{"domain":[0,1],"nice":false,"zero":false},"axis":{"orient":"bottom","values":[0.1269,0.2761,0.4254,0.5746,0.7239,0.8731],"labels":false,"tickSize":-4,"title":null,"offset":0}},"x2":{"field":"hx2"},"y":{"datum":0,"type":"quantitative","scale":{"domain":[0,1],"nice":false,"zero":false},"axis":{"orient":"left","values":[0.2044,0.5693,0.9343],"labels":false,"tickSize":2.5,"title":null,"offset":0}},"y2":{"datum":1}}},
 {"layer":[
  {"data":{"name":"cur"},"transform":[{"filter":"datum.p=='c' && datum.s=='F'"}],"mark":{"type":"area","interpolate":"monotone","fill":"white","clip":true},
   "encoding":{"x":{"field":"z","type":"quantitative","scale":{"domain":[-6.7,6.7],"nice":false,"zero":false},"axis":{"orient":"bottom","values":[-6,-4,-2,0,2,4,6],"labels":false,"tickSize":-4,"title":null,"offset":0}},
   "y":{"field":"v","type":"quantitative","scale":{"domain":[-0.03,1.34],"nice":false,"zero":false},"axis":{"orient":"left","values":[0,0.5,1],"labels":false,"tickSize":4,"title":"ρB/F (z)l","titlePadding":21,"offset":0}},
   "y2":{"datum":1.34}}},
  {"data":{"name":"one"},"mark":{"type":"rect","fill":"white"},"encoding":{"x":{"datum":-6.7,"type":"quantitative"},"x2":{"datum":6.7},"y":{"datum":-0.03,"type":"quantitative"},"y2":{"datum":0}}},
  {"data":{"name":"cur"},"transform":[{"filter":"datum.p=='c' && datum.s=='B'"}],"mark":{"type":"area","interpolate":"monotone","fill":"#c4c4c4","opacity":0.6,"clip":true},"encoding":{"x":{"field":"z","type":"quantitative"},"y":{"field":"v","type":"quantitative"},"y2":{"datum":0}}},
  {"data":{"name":"cur"},"transform":[{"filter":"datum.p=='c' && datum.s=='B'"}],"mark":{"type":"line","interpolate":"monotone","stroke":"#8c8c8c","strokeWidth":1.2,"clip":true},"encoding":{"x":{"field":"z","type":"quantitative"},"y":{"field":"v","type":"quantitative"}}},
  {"data":{"name":"cur"},"transform":[{"filter":"datum.p=='c' && datum.s=='F'"}],"mark":{"type":"line","interpolate":"monotone","stroke":"black","strokeWidth":1.4,"strokeDash":[4,2.5],"clip":true},"encoding":{"x":{"field":"z","type":"quantitative"},"y":{"field":"v","type":"quantitative"}}},
  {"data":{"name":"one"},"mark":{"type":"rect","filled":false,"stroke":"#444","strokeWidth":1.5,"cornerRadius":5},"encoding":{"x":{"datum":-6.7,"type":"quantitative"},"x2":{"datum":6.7},"y":{"datum":-0.03,"type":"quantitative"},"y2":{"datum":1.34}}},
  {"data":{"name":"one"},"mark":{"type":"text","text":"(c)","font":"Liberation Serif","fontSize":12,"align":"left","baseline":"top","dx":3,"dy":5},"encoding":{"x":{"datum":-6.7,"type":"quantitative"},"y":{"datum":1.34,"type":"quantitative"}}},
  {"data":{"name":"one"},"mark":{"type":"text","text":"η = −1","font":"DejaVu Sans","fontSize":12,"align":"right","baseline":"top","dx":-6,"dy":4},"encoding":{"x":{"datum":6.7,"type":"quantitative"},"y":{"datum":1.34,"type":"quantitative"}}},
  {"data":{"name":"xl"},"mark":{"type":"text","font":"DejaVu Sans","fontSize":12,"align":"center","baseline":"top","dy":3},"encoding":{"x":{"field":"t","type":"quantitative"},"y":{"datum":-0.03,"type":"quantitative"},"text":{"field":"l"}}},
  {"data":{"name":"yl"},"transform":[{"filter":"datum.t <= 1"}],"mark":{"type":"text","font":"DejaVu Sans","fontSize":12,"align":"right","baseline":"middle","dx":-6},"encoding":{"x":{"datum":-6.7,"type":"quantitative"},"y":{"field":"t","type":"quantitative"},"text":{"field":"l"}}}
 ]}
 ]},
{"width":172,"height":106,"title":"XY phase","resolve":{"scale":{"x":"independent","y":"independent"}},
 "layer":[
 {"data":{"name":"hatch"},"mark":{"type":"rule","clip":true,"stroke":"#7a7a7a","strokeWidth":0.7},
  "encoding":{"x":{"field":"hx","type":"quantitative","scale":{"domain":[0,1],"nice":false,"zero":false},"axis":{"orient":"bottom","values":[0.1269,0.2761,0.4254,0.5746,0.7239,0.8731],"labels":false,"tickSize":-4,"title":null,"offset":0}},"x2":{"field":"hx2"},"y":{"datum":0,"type":"quantitative","scale":{"domain":[0,1],"nice":false,"zero":false},"axis":{"orient":"right","values":[0.1837,0.5238,0.8639],"labels":false,"tickSize":2.5,"title":null,"offset":0}},"y2":{"datum":1}}},
 {"layer":[
  {"data":{"name":"cur"},"transform":[{"filter":"datum.p=='d' && datum.s=='F'"}],"mark":{"type":"area","interpolate":"monotone","fill":"white","clip":true},
   "encoding":{"x":{"field":"z","type":"quantitative","scale":{"domain":[-6.7,6.7],"nice":false,"zero":false},"axis":{"orient":"bottom","values":[-6,-4,-2,0,2,4,6],"labels":false,"tickSize":-4,"title":null,"offset":0}},
   "y":{"field":"v","type":"quantitative","scale":{"domain":[-0.02,1.45],"nice":false,"zero":false},"axis":{"orient":"right","values":[0,0.5,1],"labels":false,"tickSize":4,"title":null,"offset":0}},
   "y2":{"datum":1.45}}},
  {"data":{"name":"one"},"mark":{"type":"rect","fill":"white"},"encoding":{"x":{"datum":-6.7,"type":"quantitative"},"x2":{"datum":6.7},"y":{"datum":-0.02,"type":"quantitative"},"y2":{"datum":0}}},
  {"data":{"name":"cur"},"transform":[{"filter":"datum.p=='d' && datum.s=='B'"}],"mark":{"type":"area","interpolate":"monotone","fill":"#c4c4c4","opacity":0.6,"clip":true},"encoding":{"x":{"field":"z","type":"quantitative"},"y":{"field":"v","type":"quantitative"},"y2":{"datum":0}}},
  {"data":{"name":"cur"},"transform":[{"filter":"datum.p=='d' && datum.s=='B'"}],"mark":{"type":"line","interpolate":"monotone","stroke":"#8c8c8c","strokeWidth":1.2,"clip":true},"encoding":{"x":{"field":"z","type":"quantitative"},"y":{"field":"v","type":"quantitative"}}},
  {"data":{"name":"cur"},"transform":[{"filter":"datum.p=='d' && datum.s=='F'"}],"mark":{"type":"line","interpolate":"monotone","stroke":"black","strokeWidth":1.4,"strokeDash":[4,2.5],"clip":true},"encoding":{"x":{"field":"z","type":"quantitative"},"y":{"field":"v","type":"quantitative"}}},
  {"data":{"name":"one"},"mark":{"type":"rect","filled":false,"stroke":"#444","strokeWidth":1.5,"cornerRadius":5},"encoding":{"x":{"datum":-6.7,"type":"quantitative"},"x2":{"datum":6.7},"y":{"datum":-0.02,"type":"quantitative"},"y2":{"datum":1.45}}},
  {"data":{"name":"one"},"mark":{"type":"text","text":"(d)","font":"Liberation Serif","fontSize":12,"align":"left","baseline":"top","dx":8,"dy":5},"encoding":{"x":{"datum":-6.7,"type":"quantitative"},"y":{"datum":1.45,"type":"quantitative"}}},
  {"data":{"name":"one"},"mark":{"type":"text","text":"η = 1","font":"DejaVu Sans","fontSize":12,"align":"right","baseline":"top","dx":-6,"dy":4},"encoding":{"x":{"datum":6.7,"type":"quantitative"},"y":{"datum":1.45,"type":"quantitative"}}},
  {"data":{"name":"xl"},"mark":{"type":"text","font":"DejaVu Sans","fontSize":12,"align":"center","baseline":"top","dy":3},"encoding":{"x":{"field":"t","type":"quantitative"},"y":{"datum":-0.02,"type":"quantitative"},"text":{"field":"l"}}},
  {"data":{"name":"yl"},"transform":[{"filter":"datum.t <= 1"}],"mark":{"type":"text","font":"DejaVu Sans","fontSize":12,"align":"left","baseline":"middle","dx":6},"encoding":{"x":{"datum":6.7,"type":"quantitative"},"y":{"field":"t","type":"quantitative"},"text":{"field":"l"}}}
 ]}
 ]}
],"spacing":16},
{"hconcat":[
{"width":172,"height":106,"title":"Heisenberg FM","resolve":{"scale":{"x":"independent","y":"independent"}},
 "layer":[
 {"data":{"name":"hatch"},"mark":{"type":"rule","clip":true,"stroke":"#7a7a7a","strokeWidth":0.7},
  "encoding":{"x":{"field":"hx","type":"quantitative","scale":{"domain":[0,1],"nice":false,"zero":false},"axis":{"orient":"bottom","values":[0.1269,0.2761,0.4254,0.5746,0.7239,0.8731],"labels":false,"tickSize":-4,"title":null,"offset":0}},"x2":{"field":"hx2"},"y":{"datum":0,"type":"quantitative","scale":{"domain":[0,1],"nice":false,"zero":false},"axis":{"orient":"left","values":[0.2523,0.7196],"labels":false,"tickSize":2.5,"title":null,"offset":0}},"y2":{"datum":1}}},
 {"layer":[
  {"data":{"name":"cur"},"transform":[{"filter":"datum.p=='e' && datum.s=='F'"}],"mark":{"type":"area","interpolate":"monotone","fill":"white","clip":true},
   "encoding":{"x":{"field":"z","type":"quantitative","scale":{"domain":[-6.7,6.7],"nice":false,"zero":false},"axis":{"orient":"bottom","values":[-6,-4,-2,0,2,4,6],"labels":false,"tickSize":-4,"title":"z/l","titlePadding":17,"offset":0}},
   "y":{"field":"v","type":"quantitative","scale":{"domain":[-0.02,1.05],"nice":false,"zero":false},"axis":{"orient":"left","values":[0,0.5,1],"labels":false,"tickSize":4,"title":"ρB/F (z)l","titlePadding":21,"offset":0}},
   "y2":{"datum":1.05}}},
  {"data":{"name":"one"},"mark":{"type":"rect","fill":"white"},"encoding":{"x":{"datum":-6.7,"type":"quantitative"},"x2":{"datum":6.7},"y":{"datum":-0.02,"type":"quantitative"},"y2":{"datum":0}}},
  {"data":{"name":"cur"},"transform":[{"filter":"datum.p=='e' && datum.s=='B'"}],"mark":{"type":"area","interpolate":"monotone","fill":"#c4c4c4","opacity":0.6,"clip":true},"encoding":{"x":{"field":"z","type":"quantitative"},"y":{"field":"v","type":"quantitative"},"y2":{"datum":0}}},
  {"data":{"name":"cur"},"transform":[{"filter":"datum.p=='e' && datum.s=='B'"}],"mark":{"type":"line","interpolate":"monotone","stroke":"#8c8c8c","strokeWidth":1.2,"clip":true},"encoding":{"x":{"field":"z","type":"quantitative"},"y":{"field":"v","type":"quantitative"}}},
  {"data":{"name":"cur"},"transform":[{"filter":"datum.p=='e' && datum.s=='F'"}],"mark":{"type":"line","interpolate":"monotone","stroke":"black","strokeWidth":1.4,"strokeDash":[4,2.5],"clip":true},"encoding":{"x":{"field":"z","type":"quantitative"},"y":{"field":"v","type":"quantitative"}}},
  {"data":{"name":"one"},"mark":{"type":"rect","filled":false,"stroke":"#444","strokeWidth":1.5,"cornerRadius":5},"encoding":{"x":{"datum":-6.7,"type":"quantitative"},"x2":{"datum":6.7},"y":{"datum":-0.02,"type":"quantitative"},"y2":{"datum":1.05}}},
  {"data":{"name":"one"},"mark":{"type":"text","text":"(e)","font":"Liberation Serif","fontSize":12,"align":"left","baseline":"top","dx":3,"dy":5},"encoding":{"x":{"datum":-6.7,"type":"quantitative"},"y":{"datum":1.05,"type":"quantitative"}}},
  {"data":{"name":"one"},"mark":{"type":"text","text":"η = 0","font":"DejaVu Sans","fontSize":12,"align":"right","baseline":"top","dx":-6,"dy":4},"encoding":{"x":{"datum":6.7,"type":"quantitative"},"y":{"datum":1.05,"type":"quantitative"}}},
  {"data":{"name":"xl"},"mark":{"type":"text","font":"DejaVu Sans","fontSize":12,"align":"center","baseline":"top","dy":3},"encoding":{"x":{"field":"t","type":"quantitative"},"y":{"datum":-0.02,"type":"quantitative"},"text":{"field":"l"}}},
  {"data":{"name":"yl"},"transform":[{"filter":"datum.t <= 1"}],"mark":{"type":"text","font":"DejaVu Sans","fontSize":12,"align":"right","baseline":"middle","dx":-6},"encoding":{"x":{"datum":-6.7,"type":"quantitative"},"y":{"field":"t","type":"quantitative"},"text":{"field":"l"}}}
 ]}
 ]},
{"width":172,"height":106,"title":"Ising FM","resolve":{"scale":{"x":"independent","y":"independent"}},
 "layer":[
 {"data":{"name":"hatch"},"mark":{"type":"rule","clip":true,"stroke":"#7a7a7a","strokeWidth":0.7},
  "encoding":{"x":{"field":"hx","type":"quantitative","scale":{"domain":[0,1],"nice":false,"zero":false},"axis":{"orient":"bottom","values":[0.1269,0.2761,0.4254,0.5746,0.7239,0.8731],"labels":false,"tickSize":-4,"title":null,"offset":0}},"x2":{"field":"hx2"},"y":{"datum":0,"type":"quantitative","scale":{"domain":[0,1],"nice":false,"zero":false},"axis":{"orient":"right","values":[0.1333,0.3714,0.6095,0.8476],"labels":false,"tickSize":2.5,"title":null,"offset":0}},"y2":{"datum":1}}},
 {"layer":[
  {"data":{"name":"cur"},"transform":[{"filter":"datum.p=='f' && datum.s=='F'"}],"mark":{"type":"area","interpolate":"monotone","fill":"white","clip":true},
   "encoding":{"x":{"field":"z","type":"quantitative","scale":{"domain":[-6.7,6.7],"nice":false,"zero":false},"axis":{"orient":"bottom","values":[-6,-4,-2,0,2,4,6],"labels":false,"tickSize":-4,"title":"z/l","titlePadding":17,"offset":0}},
   "y":{"field":"v","type":"quantitative","scale":{"domain":[-0.03,2.07],"nice":false,"zero":false},"axis":{"orient":"right","values":[0,0.5,1,1.5,2],"labels":false,"tickSize":4,"title":null,"offset":0}},
   "y2":{"datum":2.07}}},
  {"data":{"name":"one"},"mark":{"type":"rect","fill":"white"},"encoding":{"x":{"datum":-6.7,"type":"quantitative"},"x2":{"datum":6.7},"y":{"datum":-0.03,"type":"quantitative"},"y2":{"datum":0}}},
  {"data":{"name":"cur"},"transform":[{"filter":"datum.p=='f' && datum.s=='B'"}],"mark":{"type":"area","interpolate":"monotone","fill":"#c4c4c4","opacity":0.6,"clip":true},"encoding":{"x":{"field":"z","type":"quantitative"},"y":{"field":"v","type":"quantitative"},"y2":{"datum":0}}},
  {"data":{"name":"cur"},"transform":[{"filter":"datum.p=='f' && datum.s=='B'"}],"mark":{"type":"line","interpolate":"monotone","stroke":"#8c8c8c","strokeWidth":1.2,"clip":true},"encoding":{"x":{"field":"z","type":"quantitative"},"y":{"field":"v","type":"quantitative"}}},
  {"data":{"name":"cur"},"transform":[{"filter":"datum.p=='f' && datum.s=='F'"}],"mark":{"type":"line","interpolate":"monotone","stroke":"black","strokeWidth":1.4,"strokeDash":[4,2.5],"clip":true},"encoding":{"x":{"field":"z","type":"quantitative"},"y":{"field":"v","type":"quantitative"}}},
  {"data":{"name":"one"},"mark":{"type":"rect","filled":false,"stroke":"#444","strokeWidth":1.5,"cornerRadius":5},"encoding":{"x":{"datum":-6.7,"type":"quantitative"},"x2":{"datum":6.7},"y":{"datum":-0.03,"type":"quantitative"},"y2":{"datum":2.07}}},
  {"data":{"name":"one"},"mark":{"type":"text","text":"(f)","font":"Liberation Serif","fontSize":12,"align":"left","baseline":"top","dx":8,"dy":5},"encoding":{"x":{"datum":-6.7,"type":"quantitative"},"y":{"datum":2.07,"type":"quantitative"}}},
  {"data":{"name":"one"},"mark":{"type":"text","text":"η = 10","font":"DejaVu Sans","fontSize":12,"align":"right","baseline":"top","dx":-6,"dy":4},"encoding":{"x":{"datum":6.7,"type":"quantitative"},"y":{"datum":2.07,"type":"quantitative"}}},
  {"data":{"name":"xl"},"mark":{"type":"text","font":"DejaVu Sans","fontSize":12,"align":"center","baseline":"top","dy":3},"encoding":{"x":{"field":"t","type":"quantitative"},"y":{"datum":-0.03,"type":"quantitative"},"text":{"field":"l"}}},
  {"data":{"name":"yl"},"transform":[{"filter":"datum.t <= 2"}],"mark":{"type":"text","font":"DejaVu Sans","fontSize":12,"align":"left","baseline":"middle","dx":6},"encoding":{"x":{"datum":6.7,"type":"quantitative"},"y":{"field":"t","type":"quantitative"},"text":{"field":"l"}}}
 ]}
 ]}
],"spacing":16}
],"spacing":14}
]
}
